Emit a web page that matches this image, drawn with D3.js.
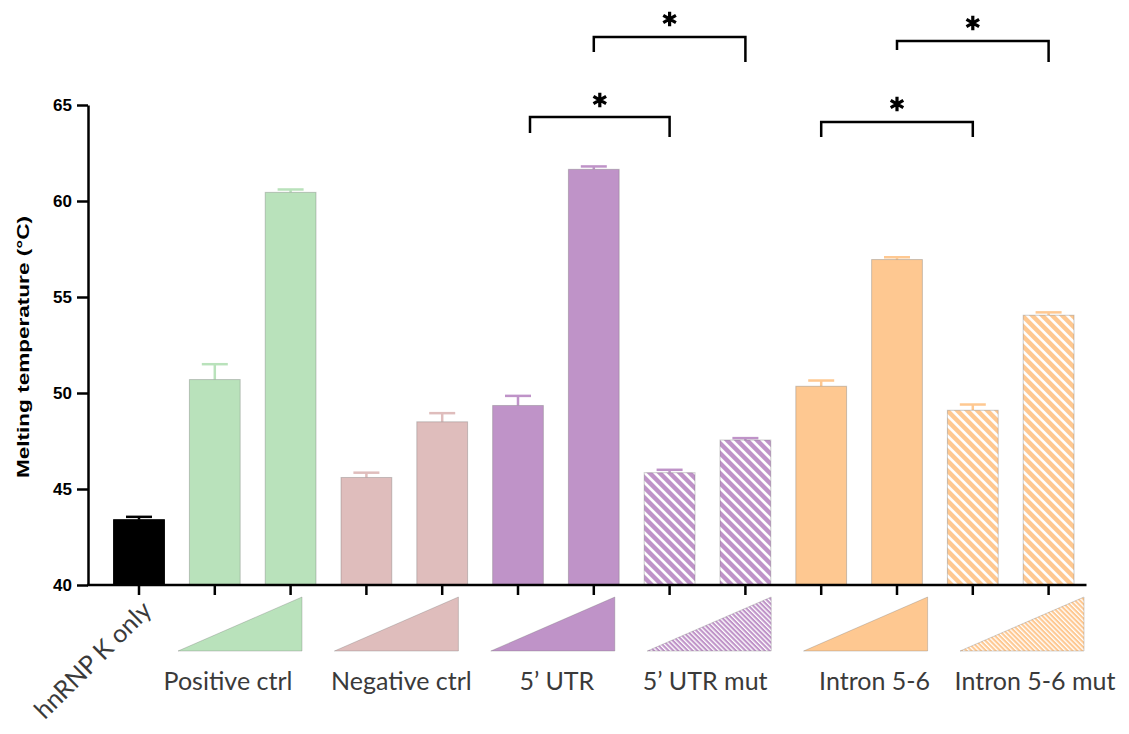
<!DOCTYPE html>
<html>
<head>
<meta charset="utf-8">
<script src="https://cdn.jsdelivr.net/npm/d3@7"></script>
<style>
  html, body { margin: 0; padding: 0; background: #fff; }
  svg { display: block; }
</style>
</head>
<body>
<svg id="chart" width="1129" height="734"></svg>
<script>
// ---- data ----
const bars = ["hnRNP K only", "pos-lo", "pos-hi", "neg-lo", "neg-hi", "utr-lo", "utr-hi",
              "utrmut-lo", "utrmut-hi", "intron-lo", "intron-hi", "intronmut-lo", "intronmut-hi"];
const meltTemp = [43.4, 50.7, 60.45, 45.6, 48.5, 49.35, 61.65, 45.85, 47.55, 50.35, 56.95, 49.1, 54.05];
const meltErr  = [0.15, 0.8, 0.15, 0.25, 0.45, 0.5, 0.15, 0.15, 0.1, 0.3, 0.12, 0.3, 0.15];
const barGroup = ["none", "pos", "pos", "neg", "neg", "utr", "utr", "utrmut", "utrmut", "intron", "intron", "intronmut", "intronmut"];
const groups = ["pos", "neg", "utr", "utrmut", "intron", "intronmut"];
const groupLabels = ["Positive ctrl", "Negative ctrl", "5\u2019 UTR", "5\u2019 UTR mut", "Intron 5-6", "Intron 5-6 mut"];
const yTicks = [40, 45, 50, 55, 60, 65];
// significance comparisons (bar index pairs)
const comparisons = [[5, 7], [6, 8], [9, 11], [10, 12]];
const compLabels = ["*", "*", "*", "*"];

// ---- styling ----
const groupColor = {
  none: "#000000", pos: "#b9e2bb", neg: "#dfbdbc", utr: "#bf93c8",
  utrmut: "#bf93c8", intron: "#fec891", intronmut: "#fec891"
};
const hatched = new Set(["utrmut", "intronmut"]);
// bracket layout: bar y, left/right leg lengths, star y, left-end nudge
const bracketLayout = [
  { y: 117, l: 16, r: 20, sy: 100, dl: 12 },
  { y: 37,  l: 15, r: 25, sy: 19,  dl: 0 },
  { y: 122, l: 15, r: 15, sy: 104, dl: 0 },
  { y: 41,  l: 9,  r: 21, sy: 23,  dl: 0 }
];
// horizontal nudges for the group captions
const labelNudge = [-12, 5, 4, -4, 9, 13];

const svg = d3.select("#chart");
const axisX = 88, baseY = 585, topY = 105;
const labelFont = "Lato, 'Open Sans', sans-serif";

const x = d3.scaleBand().domain(bars).range([101.1, 1086.5]).paddingInner(0.33).paddingOuter(0.165);
const y = d3.scaleLinear().domain([40, 65]).range([baseY, topY]);
const keyX = d3.scaleBand().domain(groups).range([161.8, 1100.2]).paddingInner(0.207).paddingOuter(0.1035);

// ---- hatch patterns ----
const defs = svg.append("defs");
function makeHatch(id, color, period, white) {
  const p = defs.append("pattern").attr("id", id)
    .attr("patternUnits", "userSpaceOnUse")
    .attr("width", period).attr("height", period)
    .attr("patternTransform", "rotate(-45)");
  p.append("rect").attr("width", period).attr("height", period).attr("fill", color);
  p.append("rect").attr("x", 0).attr("width", white).attr("height", period).attr("fill", "#fff");
}
groups.forEach(g => {
  if (hatched.has(g)) {
    makeHatch("hatch-" + g, groupColor[g], 7.07, 2.6);
    makeHatch("khatch-" + g, groupColor[g], 3.4, 1.3);
  }
});
const barFill = g => hatched.has(g) ? `url(#hatch-${g})` : groupColor[g];
const keyFill = g => hatched.has(g) ? `url(#khatch-${g})` : groupColor[g];

// ---- bars ----
const data = bars.map((b, i) => ({ key: b, v: meltTemp[i], e: meltErr[i], g: barGroup[i] }));

const barG = svg.append("g");
// error bars (upper only)
barG.selectAll("g.err").data(data).join("g").attr("class", "err")
  .each(function (d) {
    const cx = x(d.key) + x.bandwidth() / 2;
    const c = groupColor[d.g];
    const s = d3.select(this);
    s.append("line").attr("x1", cx).attr("x2", cx).attr("y1", y(d.v)).attr("y2", y(d.v + d.e))
      .attr("stroke", c).attr("stroke-width", 2.5);
    s.append("line").attr("x1", cx - 13).attr("x2", cx + 13).attr("y1", y(d.v + d.e)).attr("y2", y(d.v + d.e))
      .attr("stroke", c).attr("stroke-width", 2.5);
  });
barG.selectAll("rect.bar").data(data).join("rect").attr("class", "bar")
  .attr("x", d => x(d.key))
  .attr("width", x.bandwidth())
  .attr("y", d => y(d.v))
  .attr("height", d => y(40) - y(d.v))
  .attr("fill", d => barFill(d.g))
  .attr("stroke", d => d.g === "none" ? "#000" : "rgba(110,110,110,0.35)")
  .attr("stroke-width", 1);

// ---- axes ----
const yAxis = d3.axisLeft(y).tickValues(yTicks).tickSize(11).tickPadding(5).tickSizeOuter(0);
const gy = svg.append("g").attr("transform", `translate(${axisX},0)`).call(yAxis);
gy.select(".domain").attr("stroke", "#000").attr("stroke-width", 2.5);
gy.selectAll(".tick line").attr("stroke", "#000").attr("stroke-width", 2.5);
gy.selectAll(".tick text").attr("font-family", "Liberation Sans, Arial, sans-serif")
  .attr("font-weight", "bold").attr("font-size", 17).attr("fill", "#000");

const xAxis = d3.axisBottom(x).tickSize(10).tickFormat("").tickSizeOuter(0);
const gx = svg.append("g").attr("transform", `translate(0,${baseY})`).call(xAxis);
gx.select(".domain").attr("d", `M${axisX - 1},0H${x.range()[1]}`).attr("stroke", "#000").attr("stroke-width", 2.5);
gx.selectAll(".tick line").attr("stroke", "#000").attr("stroke-width", 2.5);

// y-axis title
svg.append("text")
  .attr("transform", "translate(29,347) rotate(-90)")
  .attr("text-anchor", "middle")
  .attr("font-family", "Liberation Sans, Arial, sans-serif")
  .attr("font-weight", "bold").attr("font-size", 17)
  .attr("textLength", 262).attr("lengthAdjust", "spacingAndGlyphs")
  .text("Melting temperature (\u00B0C)");

// ---- concentration keys (triangles) and group labels ----
const keyTop = 597, keyBot = 651;
const keyG = svg.append("g");
keyG.selectAll("path").data(groups).join("path")
  .attr("d", g => {
    const x0 = keyX(g), x1 = x0 + keyX.bandwidth();
    return `M${x0},${keyBot}L${x1},${keyTop}L${x1},${keyBot}Z`;
  })
  .attr("fill", keyFill)
  .attr("stroke", "rgba(110,110,110,0.3)").attr("stroke-width", 1);

keyG.selectAll("text").data(groups).join("text")
  .attr("x", (g, i) => keyX(g) + keyX.bandwidth() / 2 + labelNudge[i])
  .attr("y", 690)
  .attr("text-anchor", "middle")
  .attr("font-family", labelFont)
  .attr("font-size", 25).attr("fill", "#3a3a3a")
  .text((g, i) => groupLabels[i]);

// rotated label for the protein-only bar
svg.append("text")
  .attr("transform", `translate(${x(bars[0]) + x.bandwidth() / 2 + 14},612) rotate(-45)`)
  .attr("text-anchor", "end")
  .attr("font-family", labelFont)
  .attr("font-size", 25).attr("fill", "#3a3a3a")
  .text(bars[0]);

// ---- significance brackets ----
const star = d3.symbol(d3.symbolAsterisk, 150);
const brG = svg.append("g");
comparisons.forEach((c, i) => {
  const L = bracketLayout[i];
  const xa = x(bars[c[0]]) + x.bandwidth() / 2 + L.dl;
  const xb = x(bars[c[1]]) + x.bandwidth() / 2;
  brG.append("path")
    .attr("d", `M${xa},${L.y + L.l}V${L.y}H${xb}V${L.y + L.r}`)
    .attr("fill", "none").attr("stroke", "#000").attr("stroke-width", 2.5);
  if (compLabels[i] === "*") {
    brG.append("path").attr("d", star())
      .attr("transform", `translate(${(xa + xb) / 2},${L.sy})`)
      .attr("fill", "none").attr("stroke", "#000").attr("stroke-width", 3.2);
  }
});
</script>
</body>
</html>
